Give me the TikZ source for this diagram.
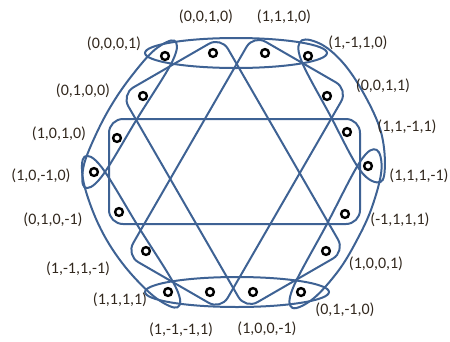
\documentclass[tikz,border=0pt]{standalone}
\usepackage{fontspec}
\setmainfont{Carlito}
\definecolor{edgeblue}{RGB}{62,98,148}
\definecolor{labcol}{RGB}{50,40,30}
\begin{document}
\begin{tikzpicture}[x=1pt,y=-1pt,
  hedge/.style={draw=edgeblue, line width=2pt},
  vec/.style={circle, draw=black, line width=2.4pt, minimum size=7.8pt, inner sep=0pt},
  lab/.style={text=labcol, font=\fontsize{16}{18}\selectfont, inner sep=0pt}]
\useasboundingbox (0,0) rectangle (450,341);
% points
\coordinate (a) at (165,56);
\coordinate (b) at (213,53);
\coordinate (c) at (265,53);
\coordinate (d) at (308,56);
\coordinate (e) at (143,96);
\coordinate (f) at (117,138);
\coordinate (g) at (94,172);
\coordinate (h) at (119,212);
\coordinate (i) at (146,251);
\coordinate (j) at (168,292);
\coordinate (k) at (210,292);
\coordinate (l) at (253,292);
\coordinate (m) at (301,292);
\coordinate (n) at (326,251);
\coordinate (o) at (345,214);
\coordinate (r) at (368,166);
\coordinate (q) at (347,132);
\coordinate (p) at (327,96);
% top and bottom contexts
\draw[hedge] (236,53) ellipse [x radius=91, y radius=15];
\draw[hedge] (237,292) ellipse [x radius=92, y radius=15];
% rectangles
\draw[hedge, rounded corners=14pt] (109,119) -- (360,119) -- (360,224) -- (109,224) -- cycle;
\draw[hedge, rounded corners=14pt] (221.0,36.8) -- (345.0,251.6) -- (245.4,309.1) -- (121.4,94.3) -- cycle;
\draw[hedge, rounded corners=14pt] (253.5,34.8) -- (348.1,89.4) -- (220.8,309.8) -- (126.2,255.2) -- cycle;
% side contexts
\begin{scope}[shift={(a)}, rotate=-121.5]
\draw[hedge] plot[smooth cycle, tension=0.6] coordinates {(-18,0) (0,-9) (68,-9) (136,-9) (154,0) (136,12) (102,18) (68,20) (34,18) (0,12)};
\end{scope}
\begin{scope}[shift={(g)}, rotate=-58.3]
\draw[hedge] plot[smooth cycle, tension=0.6] coordinates {(-18,0) (0,-9) (70,-9) (141,-9) (159,0) (141,13) (106,22) (70,25) (35,22) (0,13)};
\end{scope}
\begin{scope}[shift={(m)}, rotate=62.0]
\draw[hedge] plot[smooth cycle, tension=0.6] coordinates {(-18,0) (0,-9) (71,-9) (143,-9) (161,0) (145,14) (107,23) (71,25) (36,23) (0,14)};
\end{scope}
\begin{scope}[shift={(r)}, rotate=118.6]
\draw[hedge] plot[smooth cycle, tension=0.6] coordinates {(-20,3) (0,-9) (63,-9) (125,-8) (142,2) (128,18) (100,28) (63,31) (25,28) (-6,16)};
\end{scope}
% vector nodes
\foreach \v in {a,b,c,d,e,f,g,h,i,j,k,l,m,n,o,p,q,r}
  \node[vec] (v\v) at (\v) {};
% labels
\node[lab] (la) at (114,44) {(0,0,0,1)};
\node[lab] (lb) at (206,17) {(0,0,1,0)};
\node[lab] (lc) at (284,17) {(1,1,1,0)};
\node[lab] (ld) at (358,43) {(1,-1,1,0)};
\node[lab] (le) at (83,91) {(0,1,0,0)};
\node[lab] (lf) at (59,134) {(1,0,1,0)};
\node[lab] (lg) at (41,176) {(1,0,-1,0)};
\node[lab] (lh) at (53,220) {(0,1,0,-1)};
\node[lab] (li) at (78,269) {(1,-1,1,-1)};
\node[lab] (lj) at (120,300) {(1,1,1,1)};
\node[lab] (lk) at (181,330) {(1,-1,-1,1)};
\node[lab] (ll) at (267,329) {(1,0,0,-1)};
\node[lab] (lm) at (345,310) {(0,1,-1,0)};
\node[lab] (ln) at (376,264) {(1,0,0,1)};
\node[lab] (lo) at (400,220) {(-1,1,1,1)};
\node[lab] (lr) at (419,176) {(1,1,1,-1)};
\node[lab] (lq) at (407,127) {(1,1,-1,1)};
\node[lab] (lp) at (383,86) {(0,0,1,1)};
\end{tikzpicture}
\end{document}
